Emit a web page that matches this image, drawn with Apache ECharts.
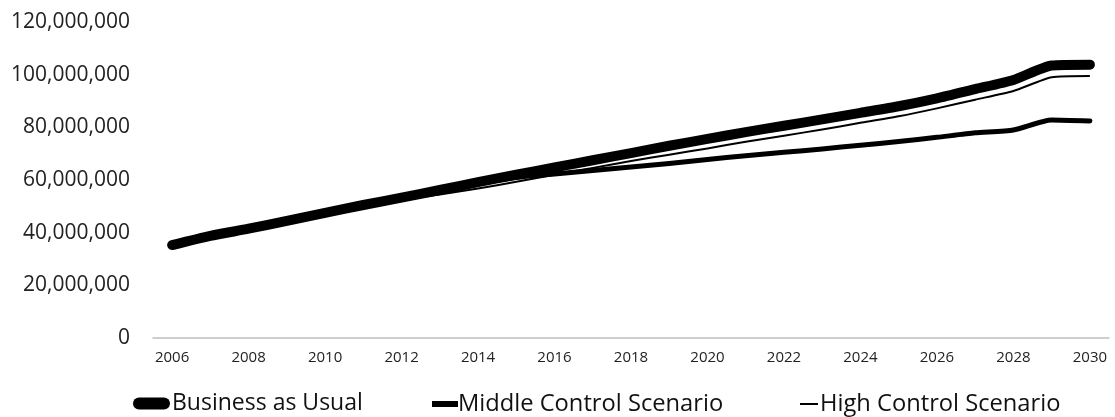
<!DOCTYPE html>
<html>
<head>
<meta charset="utf-8">
<script src="https://cdn.jsdelivr.net/npm/echarts@6/dist/echarts.min.js"></script>
<style>html,body{margin:0;padding:0;background:#fff}#c{width:1115px;height:417px}</style>
</head>
<body>
<div id="c"></div>
<script>
const years = ['2006','2007','2008','2009','2010','2011','2012','2013','2014','2015','2016','2017','2018','2019','2020','2021','2022','2023','2024','2025','2026','2027','2028','2029','2030'];
const businessAsUsual = [35.3,38.8,41.5,44.5,47.5,50.5,53.3,56.2,59.2,62.0,64.8,67.5,70.2,73.0,75.6,78.2,80.6,83.0,85.5,88.0,91.0,94.5,98.0,103.5,103.8];
const middleControl  = [35.3,38.8,41.5,44.5,47.5,50.5,53.2,56.0,58.6,61.0,62.3,63.6,64.9,66.3,67.8,69.2,70.5,71.8,73.2,74.6,76.2,77.9,79.0,82.8,82.4];
const highControl    = [35.3,38.8,41.5,44.3,47.2,50.0,52.5,54.5,56.8,59.3,62.0,64.6,67.2,69.6,72.0,74.5,76.8,79.2,81.7,84.2,87.2,90.5,93.8,99.0,99.5];
const seriesNames = ['Business as Usual','Middle Control Scenario','High Control Scenario'];
const M = 1e6;

const chart = echarts.init(document.getElementById('c'));
const fmt = v => Math.round(v).toLocaleString('en-US');
const legendText = {fontSize: 23.7, color: '#111', fontFamily: 'Open Sans'};
chart.setOption({
  animation: false,
  textStyle: {fontFamily: 'Open Sans'},
  grid: {left: 153, right: 6, top: 22, bottom: 79},
  xAxis: {
    type: 'category', data: years, boundaryGap: true,
    axisLine: {lineStyle: {color: '#bfbfbf', width: 1.5}},
    axisTick: {show: false},
    axisLabel: {interval: 1, color: '#222', fontSize: 15, margin: 12, fontFamily: 'Open Sans'}
  },
  yAxis: {
    type: 'value', min: 0, max: 120*M, interval: 20*M,
    splitLine: {show: false}, axisLine: {show: false}, axisTick: {show: false},
    axisLabel: {color: '#222', fontSize: 21, margin: 23, formatter: fmt, fontFamily: 'Open Sans'}
  },
  legend: [
    {left: 133, top: 392, padding: 0, itemWidth: 37, itemHeight: 12, selectedMode: false,
     textStyle: Object.assign({}, legendText, {fontSize: 23, padding: [0,0,0,-3]}),
     data: [{name: seriesNames[0], icon: 'path://M6,0 L31,0 A6,6 0 0 1 31,12 L6,12 A6,6 0 0 1 6,0 Z', itemStyle: {color: '#000'}}]},
    {left: 432, top: 392, padding: 0, itemWidth: 26, itemHeight: 6, selectedMode: false,
     textStyle: Object.assign({}, legendText, {padding: [0,0,0,-5]}),
     data: [{name: seriesNames[1], icon: 'rect', itemStyle: {color: '#000'}}]},
    {left: 800, top: 392, padding: 0, itemWidth: 18, itemHeight: 2, selectedMode: false,
     textStyle: Object.assign({}, legendText, {padding: [0,0,0,-3]}),
     data: [{name: seriesNames[2], icon: 'rect', itemStyle: {color: '#000'}}]}
  ],
  series: [
    {name: seriesNames[0], type: 'line', data: businessAsUsual.map(v => v*M), symbol: 'none', smooth: 0.2,
     lineStyle: {color: '#000', width: 10, cap: 'round', join: 'round'}, itemStyle: {color: '#000'}, z: 3},
    {name: seriesNames[1], type: 'line', data: middleControl.map(v => v*M), symbol: 'none', smooth: 0.2,
     lineStyle: {color: '#000', width: 5, cap: 'round', join: 'round'}, itemStyle: {color: '#000'}, z: 2},
    {name: seriesNames[2], type: 'line', data: highControl.map(v => v*M), symbol: 'none', smooth: 0.2,
     lineStyle: {color: '#000', width: 2, join: 'round'}, itemStyle: {color: '#000'}, z: 4}
  ]
});
</script>
</body>
</html>
